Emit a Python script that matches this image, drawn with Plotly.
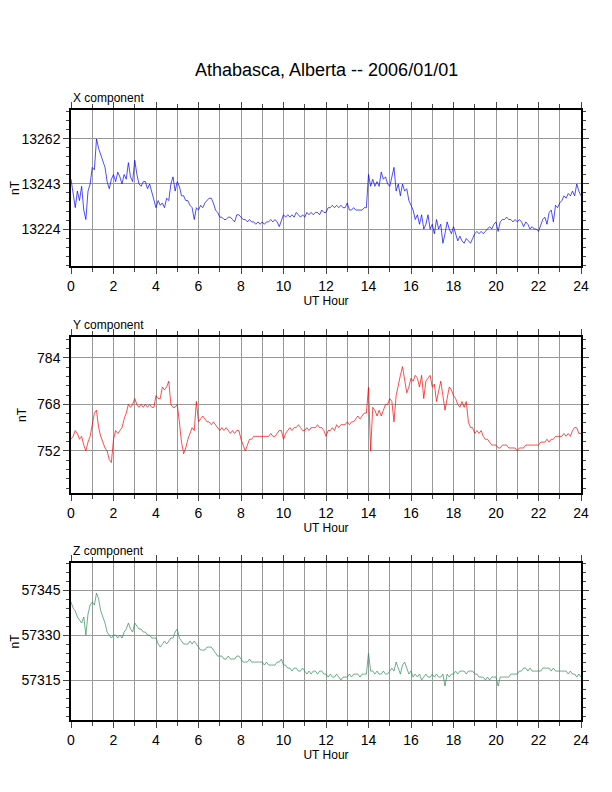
import plotly.graph_objects as go

hours = [i / 10 for i in range(241)]

x_comp = [
13245,13238,13233,13240,13236,13242,13232,13228,13240,13243,
13250,13249,13262,13258,13255,13252,13250,13244,13241,13245,
13247,13244,13248,13246,13243,13247,13245,13252,13246,13244,
13253,13247,13243,13242,13244,13244,13241,13243,13240,13237,
13233,13236,13234,13235,13233,13237,13236,13243,13246,13240,
13244,13242,13238,13238,13236,13236,13234,13233,13228,13233,
13232,13234,13233,13235,13236,13237,13237,13235,13232,13231,
13229,13229,13228,13228,13229,13229,13228,13227,13230,13230,
13229,13228,13228,13227,13228,13227,13227,13226,13227,13226,
13227,13226,13227,13227,13228,13227,13228,13227,13225,13228,
13230,13229,13230,13229,13230,13229,13231,13230,13229,13230,
13229,13231,13230,13231,13230,13231,13231,13230,13232,13231,
13231,13233,13233,13234,13233,13234,13233,13234,13233,13233,
13235,13232,13232,13233,13232,13232,13232,13232,13233,13233,
13247,13242,13245,13242,13244,13242,13248,13245,13246,13243,
13242,13246,13250,13240,13243,13238,13243,13240,13241,13236,
13234,13232,13228,13230,13226,13230,13224,13226,13230,13224,
13226,13222,13228,13224,13226,13218,13222,13227,13224,13222,
13225,13222,13219,13221,13219,13218,13220,13219,13218,13220,
13222,13223,13222,13223,13222,13223,13224,13225,13224,13226,
13227,13223,13227,13228,13228,13229,13228,13228,13227,13228,
13227,13228,13227,13225,13227,13226,13224,13225,13224,13224,
13223,13226,13228,13229,13226,13231,13232,13227,13234,13233,
13235,13236,13238,13237,13239,13238,13240,13238,13243,13240,
13238]

y_comp = [
756,757,759,758,756,757,754,752,755,757,
761,765,766,760,757,755,753,752,749,748,
756,759,758,759,760,763,765,768,767,768,
770,768,767,768,767,768,767,768,767,767,
771,770,770,774,773,774,776,768,767,767,
768,762,755,751,753,756,758,760,759,769,
762,763,764,763,762,762,761,762,761,760,
759,760,759,760,759,758,759,758,759,759,
756,754,752,754,756,756,757,757,757,757,
757,757,757,757,758,757,757,758,759,759,
756,758,759,760,759,760,760,761,760,759,
759,760,759,760,760,760,761,760,760,759,
757,759,759,760,759,761,760,761,761,761,
762,761,762,762,763,764,763,764,765,765,
774,752,767,766,764,766,764,766,768,768,
770,769,762,771,775,778,781,776,772,774,
777,776,778,777,774,778,770,776,777,778,
774,775,769,772,776,771,766,770,774,773,
771,770,768,767,769,767,769,762,760,760,
758,759,758,759,757,756,756,755,754,754,
754,753,753,754,754,754,753,753,753,753,
752,753,753,753,754,754,754,754,754,754,
754,755,755,755,756,755,756,756,757,757,
757,757,758,757,758,757,759,760,760,758,
758]

z_comp = [
57341,57339,57338,57336,57335,57334,57336,57330,57337,57340,
57341,57340,57344,57342,57338,57336,57334,57331,57330,57329,
57330,57330,57329,57330,57329,57331,57332,57334,57332,57331,
57334,57333,57332,57332,57331,57331,57330,57330,57329,57329,
57329,57327,57326,57327,57328,57327,57328,57329,57329,57331,
57332,57329,57328,57327,57327,57327,57328,57327,57328,57327,
57326,57325,57325,57325,57326,57326,57326,57325,57324,57323,
57323,57323,57322,57322,57323,57322,57322,57322,57323,57323,
57322,57321,57321,57321,57322,57321,57321,57321,57321,57321,
57321,57320,57321,57320,57320,57320,57320,57321,57321,57322,
57320,57320,57319,57319,57318,57319,57319,57318,57318,57319,
57318,57317,57318,57317,57318,57318,57317,57318,57318,57317,
57317,57316,57317,57316,57316,57317,57316,57315,57316,57316,
57316,57317,57316,57317,57317,57317,57316,57317,57317,57317,
57324,57318,57318,57317,57318,57317,57317,57318,57317,57317,
57318,57319,57318,57321,57319,57317,57320,57321,57319,57317,
57318,57316,57317,57316,57317,57315,57316,57317,57316,57316,
57317,57316,57317,57316,57316,57317,57313,57317,57316,57317,
57317,57318,57317,57318,57318,57318,57317,57318,57318,57318,
57317,57317,57316,57316,57316,57315,57316,57315,57316,57316,
57316,57313,57316,57316,57316,57316,57316,57317,57317,57317,
57317,57318,57318,57319,57319,57318,57319,57318,57318,57318,
57318,57318,57319,57319,57319,57319,57318,57319,57318,57318,
57318,57318,57318,57318,57317,57318,57317,57317,57316,57317,
57316]

panels = [
    ("X component", x_comp, "#0000ff", 13224, 19, [13208.4, 13274.2], (110, 266)),
    ("Y component", y_comp, "#ff0000", 752, 16, [737.5, 791.2], (337, 493)),
    ("Z component", z_comp, "#2e8b57", 57315, 15, [57301.7, 57354.0], (563, 720)),
]

H = 792.0
W = 612.0
OFF = 8  # page body margin
fig = go.Figure()
layout = dict(
    width=612, height=792, margin=dict(l=0, r=0, t=0, b=0),
    paper_bgcolor="white", plot_bgcolor="white", showlegend=False,
    font=dict(family="Liberation Sans, Arial, sans-serif", color="black"),
)
annotations = [dict(text="Athabasca, Alberta -- 2006/01/01", x=(326 - OFF) / W, y=1 - (70 - OFF) / H,
                    xref="paper", yref="paper", showarrow=False,
                    font=dict(size=18), xanchor="center", yanchor="middle")]
xd = [(71 - OFF) / W, (581 - OFF) / W]
for i, (name, vals, col, t0, dt, rng, (top, bot)) in enumerate(panels):
    n = "" if i == 0 else str(i + 1)
    top -= OFF
    bot -= OFF
    fig.add_trace(go.Scatter(x=hours, y=vals, mode="lines",
                             line=dict(color=col, width=0.7),
                             xaxis="x" + n, yaxis="y" + n))
    layout["xaxis" + n] = dict(
        domain=xd, anchor="y" + n, range=[0, 24], dtick=2, tick0=0, automargin=False,
        showgrid=True, gridcolor="#999999", gridwidth=1,
        minor=dict(dtick=1, showgrid=True, gridcolor="#999999", ticks="outside", ticklen=4),
        showline=True, linecolor="black", linewidth=1.5, mirror="ticks",
        ticks="outside", ticklen=6, tickfont=dict(size=14),
        title=dict(text="UT Hour", font=dict(size=12), standoff=2), zeroline=False)
    layout["yaxis" + n] = dict(
        domain=[1 - bot / H, 1 - top / H], anchor="x" + n, range=rng, automargin=False,
        tick0=t0, dtick=dt, tickformat="d", showgrid=True, gridcolor="#999999", gridwidth=1,
        minor=dict(dtick=dt / 5, ticks="outside", ticklen=3, showgrid=False),
        showline=True, linecolor="black", linewidth=1.5, mirror="ticks",
        ticks="outside", ticklen=6, tickfont=dict(size=14),
        title=dict(text="nT", font=dict(size=12), standoff=8), zeroline=False)
    annotations.append(dict(text=name, x=xd[0], y=1 - (top - 12) / H, xref="paper",
                            yref="paper", showarrow=False, xanchor="left",
                            yanchor="middle", font=dict(size=12)))
layout["annotations"] = annotations
fig.update_layout(**layout)
fig.write_html("out.html")
